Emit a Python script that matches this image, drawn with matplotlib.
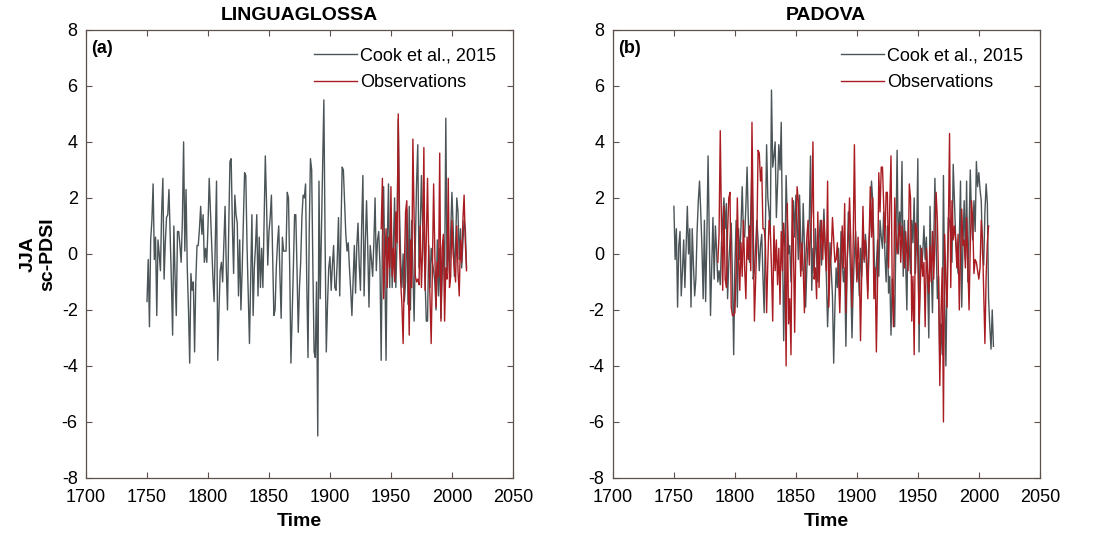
import numpy as np
import matplotlib
matplotlib.use('Agg')
import matplotlib.pyplot as plt

plt.rcParams['font.family'] = ['Liberation Sans', 'DejaVu Sans']
plt.rcParams['axes.unicode_minus'] = False

# JJA sc-PDSI, Linguaglossa grid point (Cook et al., 2015), 1750-2012
ling_cook_start = 1750
ling_cook = [
    -1.7, -0.2, -2.6, 0.5, 1.2, 2.5, -0.2, 0.6, -2.2, 0.5,
    0.0, -0.6, 1.5, 2.7, -0.9, 0.4, 1.3, 1.4, 2.3, 0.7,
    -1.0, -2.9, 1.0, -0.8, -2.2, 0.8, 0.8, 0.3, -0.3, 1.2,
    4.0, 0.1, 2.3, -0.5, -2.0, -3.9, -0.7, -1.3, -1.0, -3.5,
    -1.0, 0.3, 0.3, 0.9, 1.7, 0.7, 1.4, -0.3, 0.2, -0.3,
    1.0, 2.7, 1.5, 0.3, -0.8, -1.7, 0.5, 2.6, -3.8, -2.0,
    -0.6, -0.3, -1.0, 0.4, 1.7, -0.5, -2.0, 0.9, 3.3, 3.4,
    1.0, -0.7, 2.1, 1.4, 1.1, -1.5, 0.5, -2.0, -0.6, 1.2,
    2.9, 2.8, 0.3, -1.5, -3.2, -1.0, 1.4, -2.2, -0.5, 0.3,
    1.4, -1.5, 0.6, -1.2, 0.2, -1.2, 1.2, 3.5, 1.8, -0.4,
    0.8, 1.3, 2.1, 0.0, -2.2, -2.0, -0.5, 0.4, 1.0, -0.8,
    -2.3, 0.6, 0.1, 0.1, 0.1, 2.2, 2.0, -0.5, -3.9, -2.2,
    -0.5, 1.4, 1.4, -0.6, -2.8, -1.2, -0.3, 1.3, 2.1, 2.0,
    2.5, -1.0, -3.7, 0.8, 3.4, 3.0, -0.5, -3.5, -3.7, -1.0,
    -6.5, 2.6, -1.6, 0.8, 3.0, 5.5, 0.5, -3.5, -1.8, -0.5,
    -0.1, -1.3, -0.4, 0.3, -1.2, -1.3, -0.2, 1.3, -1.5, 0.8,
    3.1, 3.0, 1.8, 0.7, 0.1, 0.4, -0.5, -1.3, -2.2, -0.9,
    0.3, -1.4, 0.3, 1.1, -0.4, -1.3, 1.0, 2.8, -1.5, 0.4,
    1.9, 0.2, -1.9, 0.3, -0.2, -0.8, 0.4, 2.0, -0.6, 0.5,
    0.8, -0.4, -3.8, 0.6, 2.4, -0.5, -3.8, 0.4, 2.5, -1.2,
    1.6, -1.2, 0.3, 2.0, -1.2, 0.4, 4.8, 1.6, -0.2, -1.2,
    0.0, -1.7, -1.0, 1.6, -1.8, 1.7, -2.0, 1.2, -0.5, -2.4,
    0.3, 2.5, 3.9, -0.5, 0.8, 2.8, 1.0, 0.5, -1.0, -2.4,
    -2.4, 0.3, -1.2, 0.2, -0.3, -0.6, -1.0, -2.0, 0.5, -1.5,
    0.2, -2.3, -0.8, 0.5, -1.0, 4.85, -0.6, 0.5, -0.7, 0.8,
    2.2, 1.0, -0.8, 0.3, 2.0, 1.5, -0.2, 0.9, -0.5, 0.4,
    1.2, 0.9, -0.5,
]

# JJA sc-PDSI from Linguaglossa station data
ling_obs_start = 1942
ling_obs = [
    0.9, 2.7, -1.6, -0.3, 0.9, -1.2, 0.6, -0.5, 2.4, -0.8,
    0.2, -1.0, 1.5, 0.4, 5.0, 0.4, -1.0, -1.8, -3.2, -0.5,
    1.5, 1.9, -0.6, -2.9, 0.5, -1.2, 4.1, 1.3, -0.8, -1.0,
    -0.9, -1.1, 1.0, -1.2, 0.2, 3.8, -1.3, 0.5, 2.7, -0.1,
    -1.5, -3.2, -0.5, 2.5, 0.0, -1.9, -0.3, -0.8, 3.6, -2.4,
    0.2, 0.7, -2.4, -0.5, -0.9, 2.7, -1.2, -0.8, 1.2, 0.0,
    -0.5, -1.0, 1.0, -0.6, -1.5, 0.5, -0.3, 1.2, 2.1, 0.4,
    -0.6,
]

# JJA sc-PDSI, Padova grid point (Cook et al., 2015), 1750-2012
pad_cook_start = 1750
pad_cook = [
    1.7, -0.2, 0.9, -1.9, 0.3, 0.8, -1.5, -0.6, 0.5, -1.2,
    0.2, 1.7, 0.0, 0.9, -1.9, 0.9, -0.4, -1.5, -0.9, 0.8,
    1.9, 2.6, 1.5, 0.2, -1.6, 1.2, -1.7, 0.5, 3.5, 0.6,
    -2.2, -0.4, 1.3, -0.9, 1.0, 0.1, -1.0, -0.6, -1.1, 0.4,
    1.2, 2.0, 0.9, 1.8, -1.6, -0.3, 0.5, 1.1, -0.8, -3.6,
    -0.4, 1.2, -1.9, 0.9, -0.2, 1.0, 2.4, 0.7, 0.6, 1.7,
    3.1, 1.2, -0.3, 1.5, 3.2, -0.9, -0.6, 0.3, 1.2, 0.5,
    -0.6, 0.3, 0.7, -0.8, -2.1, 1.0, 3.9, 2.0, 1.5, 0.7,
    5.85, 3.1, 3.5, 4.0, 1.3, 2.5, 3.9, 3.0, 4.7, 0.5,
    -3.1, -0.5, 2.8, 1.2, 0.0, 0.3, -1.0, 0.8, 1.9, 0.6,
    2.1, 1.2, -0.2, 2.1, 0.4, -0.6, 1.8, 0.3, -1.9, -0.5,
    0.4, 1.2, 3.5, -1.3, 0.2, -0.7, 0.9, -0.1, -1.0, 0.5,
    1.2, -0.4, 0.5, 1.6, 0.2, -0.8, -2.6, -1.2, 0.4, -0.6,
    -1.5, -3.9, -1.9, -0.5, -1.2, 0.2, -1.5, 0.8, -0.2, -1.0,
    -0.5, -3.3, -0.5, 1.5, 0.4, -1.0, -3.0, -1.2, 0.0, 0.8,
    -0.9, -0.3, -1.5, 0.2, -0.8, 0.9, -0.3, 0.7, 0.1, -1.3,
    0.5, 1.2, 2.6, 1.9, 0.4, -1.6, -0.4, 0.5, -0.8, 1.2,
    0.6, 0.2, 1.5, 0.0, -1.0, 1.0, -1.4, -0.8, -2.9, -0.9,
    -1.5, -2.6, 0.5, 3.7, 0.0, 1.5, 0.6, 3.3, -0.8, 1.2,
    -0.3, -2.0, 1.2, 0.2, -0.7, 1.2, 0.4, 2.0, -0.7, 0.5,
    3.4, -3.5, 0.3, -0.5, 0.0, 1.0, -0.2, 0.6, -1.0, -3.0,
    1.7, -0.5, -2.1, 0.3, 2.7, 0.4, -1.6, -0.8, -3.9, -2.5,
    -3.6, 2.8, -1.5, -4.0, -0.9, 1.3, 1.2, 0.7, -0.3, 3.2,
    1.9, 0.6, -0.1, -0.7, 0.5, 2.6, -1.9, 0.4, 1.9, -0.2,
    2.6, -1.0, 0.8, 3.0, 1.3, 0.5, 1.9, 0.8, 3.3, 2.4,
    2.9, 2.3, 1.9, 0.0, -0.4, 1.5, 2.5, 1.8, -1.6, -2.6,
    -3.4, -2.0, -3.3,
]

# JJA sc-PDSI from Padova station data
pad_obs_start = 1786
pad_obs = [
    -0.3, 0.7, 4.4, 1.0, -1.3, 1.7, -0.9, -1.2, 0.8, 2.0,
    2.2, -1.9, -2.2, -2.2, -2.1, -0.6, 2.0, -0.1, -1.3, 0.4,
    -0.8, 1.2, -0.5, -1.6, 0.6, -0.2, 1.0, -0.6, 4.7, 1.2,
    -2.4, -0.9, 0.5, 3.7, 3.6, 2.6, 3.1, 0.9, 0.9, 0.4,
    -2.1, -0.3, 1.2, 0.9, -0.5, -2.4, 1.0, -0.6, 0.5, -1.1,
    0.2, -1.8, 0.8, -0.6, 1.1, 0.2, -4.0, 1.8, -2.5, -1.6,
    -3.6, 2.0, 0.3, -2.8, 0.5, 2.4, 1.9, 0.6, -0.8, 0.4,
    -0.5, -2.1, -0.3, 0.6, 1.2, -0.4, 0.8, 1.5, 4.0, -0.9,
    -0.5, -1.6, 1.5, -1.2, 0.3, 1.2, -0.2, 1.2, 0.3, -0.6,
    2.6, -1.9, -0.4, 0.0, 1.3, 0.5, -0.3, -0.2, 0.4, -0.8,
    -2.1, -0.4, 1.0, -0.5, 1.8, -2.1, -0.3, 0.6, 2.0, 0.5,
    -1.9, 0.4, 3.9, 0.3, -1.0, 0.6, -0.4, -3.1, -0.8, 1.7,
    -0.2, 0.5, -0.6, -1.6, 0.4, 2.4, 0.6, 2.0, -1.6, -0.5,
    -3.5, -0.9, 2.9, 1.5, 3.1, 3.1, 1.7, 0.4, 2.2, 2.2,
    -0.5, 1.8, 3.5, -1.2, -2.6, 2.0, 0.8, 0.0, 0.6, 1.1,
    -0.3, 1.0, 0.2, -0.5, 0.8, 0.0, -0.6, 2.5, 2.0, -2.4,
    -0.8, -3.6, 1.1, 0.9, -0.1, -2.5, -1.2, 0.2, -0.8, -0.3,
    -2.6, 0.2, -0.7, -1.4, 0.3, -1.0, 0.8, -0.9, 0.5, 2.2,
    1.2, -1.0, -4.7, -2.1, -0.5, -6.0, 0.7, -1.0, -1.9, 0.8,
    4.3, -1.2, 1.9, 0.5, 1.0, 0.5, -0.5, 0.7, -2.0, 0.0,
    1.6, 0.3, 0.5, -0.5, 1.3, -0.3, -2.0, 0.3, 1.9, 1.2,
    -0.7, -0.2, -0.3, -0.6, -0.9, -0.5, 1.2, 0.5, -1.4, -3.2,
    -0.8, 0.4, 1.0,
]

panels = [
    ('LINGUAGLOSSA', '(a)', ling_cook_start, ling_cook, ling_obs_start, ling_obs),
    ('PADOVA', '(b)', pad_cook_start, pad_cook, pad_obs_start, pad_obs),
]

cook_color = '#4b5457'
obs_color = '#a81c22'
frame_color = '#5e504a'

fig = plt.figure(figsize=(11.03, 5.34), dpi=100)
lefts = [0.078, 0.5557]

for i, (name, tag, c0, cook, o0, obs) in enumerate(panels):
    ax = fig.add_axes([lefts[i], 0.105, 0.387, 0.839])
    ax.plot(np.arange(c0, c0 + len(cook)), cook, color=cook_color, lw=1.0,
            label='Cook et al., 2015')
    ax.plot(np.arange(o0, o0 + len(obs)), obs, color=obs_color, lw=1.0,
            label='Observations')

    ax.set_xlim(1700, 2050)
    ax.set_ylim(-8, 8)
    ax.set_xticks(np.arange(1700, 2051, 50))
    ax.set_yticks(np.arange(-8, 9, 2))
    ax.tick_params(direction='in', top=True, right=True, length=4.5,
                   width=0.8, color=frame_color, labelsize=13)
    ax.tick_params(axis='x', pad=8)
    ax.tick_params(axis='y', pad=6)
    for sp in ax.spines.values():
        sp.set_color(frame_color)
        sp.set_linewidth(0.9)

    ax.set_title(name, fontsize=14, fontweight='bold', pad=7)
    ax.set_xlabel('Time', fontsize=14, fontweight='bold', labelpad=5)
    ax.text(0.012, 0.958, tag, transform=ax.transAxes, fontsize=13,
            fontweight='bold', va='center', ha='left')
    ax.legend(loc='upper right', frameon=False, fontsize=13,
              handlelength=2.4, handletextpad=0.15, labelspacing=0.55,
              borderaxespad=0.55)

    if i == 0:
        ax.set_ylabel('JJA\nsc-PDSI', fontsize=14, fontweight='bold',
                      labelpad=4, linespacing=1.2)

fig.savefig('out.png', dpi=100)
